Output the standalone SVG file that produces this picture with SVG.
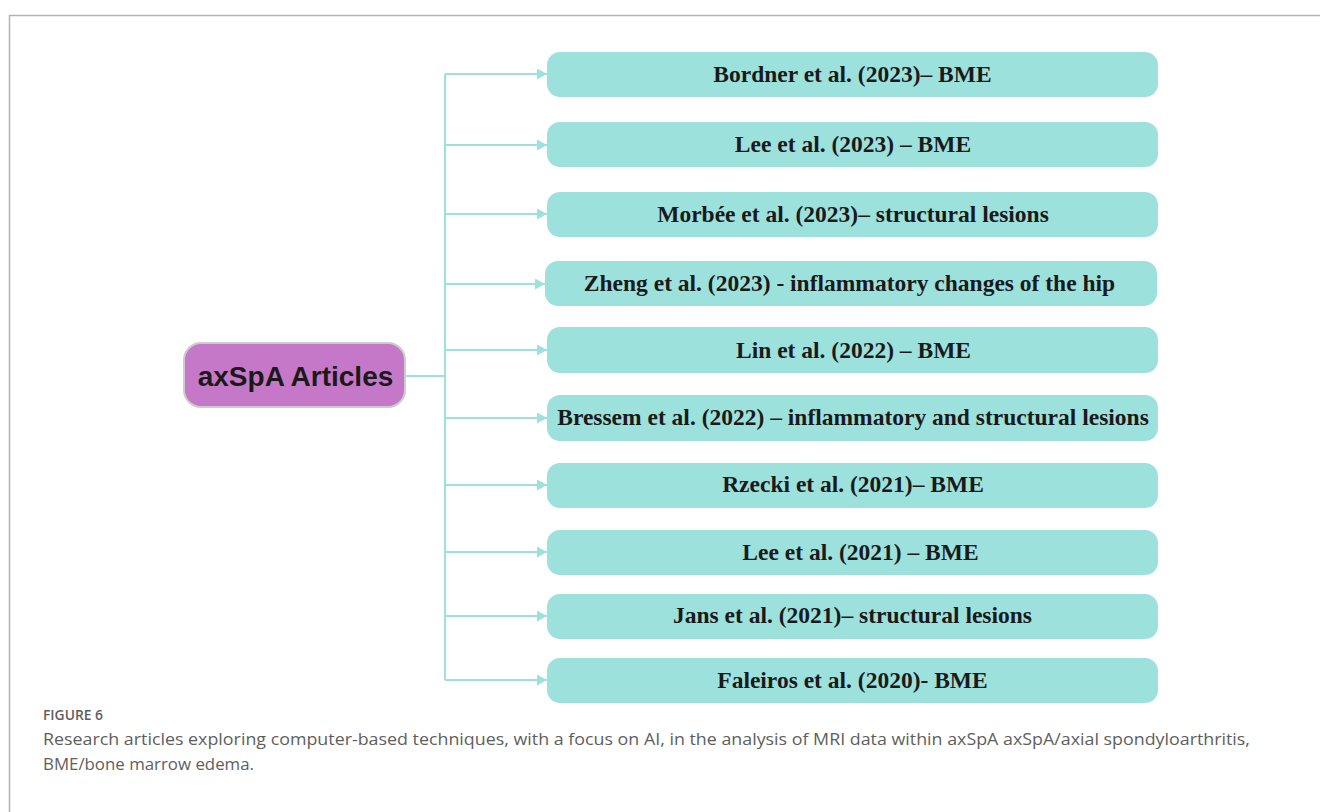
<svg xmlns="http://www.w3.org/2000/svg" width="1320" height="812" viewBox="0 0 1320 812">
<style>
.box{fill:#9de1dd;}
.lbl{font-family:"Liberation Serif",serif;font-weight:bold;font-size:23.5px;fill:#1a1a1a;text-anchor:middle;}
.con{stroke:#9de1dd;stroke-width:2;fill:none;}
.cap{font-family:"Open Sans",sans-serif;fill:#5e5e5e;}
</style>
<defs>
<marker id="arr" viewBox="0 0 10 11" refX="10" refY="5.5" markerWidth="10" markerHeight="11" markerUnits="userSpaceOnUse" orient="auto">
<path d="M0,0 L10,5.5 L0,11 z" fill="#9de1dd"/>
</marker>
</defs>
<rect width="1320" height="812" fill="#ffffff"/>
<path d="M9.5,812 V15.5 H1320" fill="none" stroke="#b3b3b3" stroke-width="1.5"/>
<g id="connectors">
<path class="con" d="M405,376 H445"/>
<path class="con" d="M445,74 V680"/>
<path class="con" d="M445,74 H547" marker-end="url(#arr)"/>
<path class="con" d="M445,145 H547" marker-end="url(#arr)"/>
<path class="con" d="M445,214 H547" marker-end="url(#arr)"/>
<path class="con" d="M445,284 H545" marker-end="url(#arr)"/>
<path class="con" d="M445,350 H547" marker-end="url(#arr)"/>
<path class="con" d="M445,418 H547" marker-end="url(#arr)"/>
<path class="con" d="M445,485 H547" marker-end="url(#arr)"/>
<path class="con" d="M445,552 H547" marker-end="url(#arr)"/>
<path class="con" d="M445,616 H547" marker-end="url(#arr)"/>
<path class="con" d="M445,680 H547" marker-end="url(#arr)"/>
</g>
<g id="root">
<rect x="184" y="343" width="221" height="64" rx="17" fill="#c678c8" stroke="#cccccc" stroke-width="2"/>
<text x="295.5" y="385.5" font-family="Liberation Sans,Arial,sans-serif" font-weight="bold" font-size="28" fill="#1a1a1a" text-anchor="middle">axSpA Articles</text>
</g>
<g id="n1"><rect class="box" x="547" y="52" width="611" height="45" rx="13"/><text class="lbl" x="852.5" y="82">Bordner et al. (2023)– BME</text></g>
<g id="n2"><rect class="box" x="547" y="122" width="611" height="45" rx="13"/><text class="lbl" x="853" y="152">Lee et al. (2023) – BME</text></g>
<g id="n3"><rect class="box" x="547" y="192" width="611" height="45" rx="13"/><text class="lbl" x="853" y="222">Morbée et al. (2023)– structural lesions</text></g>
<g id="n4"><rect class="box" x="545" y="261" width="612" height="45" rx="13"/><text class="lbl" x="849.5" y="291">Zheng et al. (2023) - inflammatory changes of the hip</text></g>
<g id="n5"><rect class="box" x="547" y="327" width="611" height="46" rx="13"/><text class="lbl" x="853.5" y="357.5">Lin et al. (2022) – BME</text></g>
<g id="n6"><rect class="box" x="547" y="395" width="611" height="46" rx="13"/><text class="lbl" x="853" y="425">Bressem et al. (2022) – inflammatory and structural lesions</text></g>
<g id="n7"><rect class="box" x="547" y="463" width="611" height="45" rx="13"/><text class="lbl" x="853" y="492">Rzecki et al. (2021)– BME</text></g>
<g id="n8"><rect class="box" x="547" y="530" width="611" height="45" rx="13"/><text class="lbl" x="860.5" y="559.5">Lee et al. (2021) – BME</text></g>
<g id="n9"><rect class="box" x="547" y="594" width="611" height="45" rx="13"/><text class="lbl" x="852.5" y="623">Jans et al. (2021)– structural lesions</text></g>
<g id="n10"><rect class="box" x="547" y="658" width="611" height="45" rx="13"/><text class="lbl" x="852.5" y="687.5">Faleiros et al. (2020)- BME</text></g>
<g id="caption">
<text class="cap" x="43" y="719.5" font-size="13.5" font-weight="600" fill="#6b6b6b" textLength="60" lengthAdjust="spacingAndGlyphs">FIGURE 6</text>
<text class="cap" x="43" y="745" font-size="17" textLength="1207" lengthAdjust="spacingAndGlyphs">Research articles exploring computer-based techniques, with a focus on AI, in the analysis of MRI data within axSpA axSpA/axial spondyloarthritis,</text>
<text class="cap" x="43" y="769.5" font-size="17" textLength="211" lengthAdjust="spacingAndGlyphs">BME/bone marrow edema.</text>
</g>
</svg>
